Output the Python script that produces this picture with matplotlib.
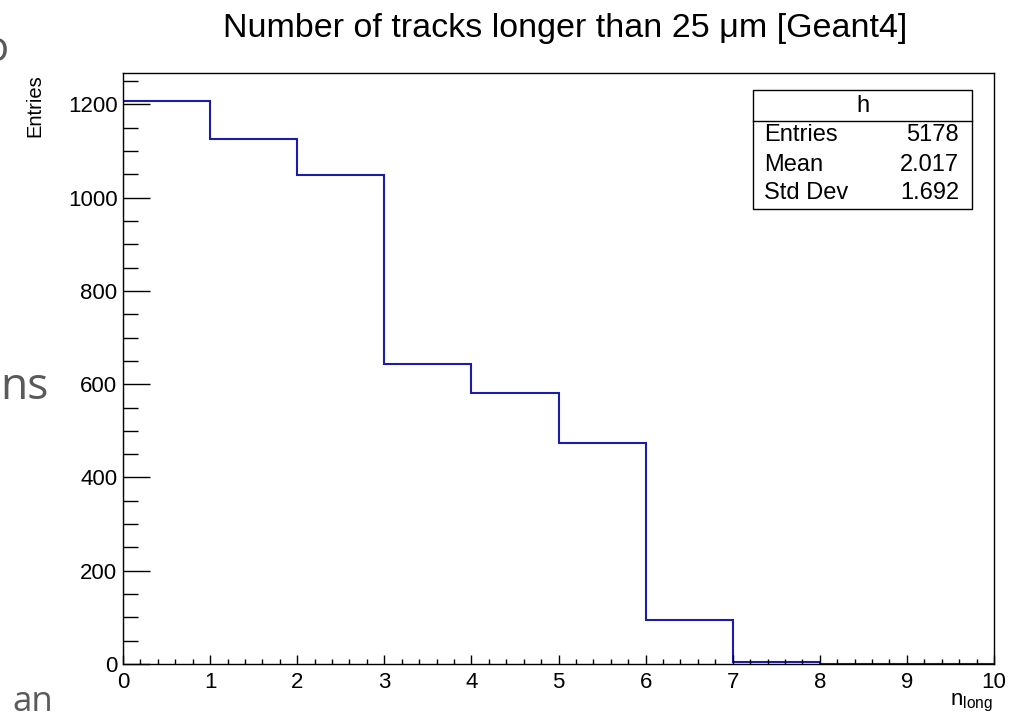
import matplotlib
matplotlib.use("Agg")
import matplotlib.pyplot as plt
from matplotlib.patches import Rectangle
from matplotlib.lines import Line2D
from matplotlib.ticker import MultipleLocator
import numpy as np

# ---- data ----
bin_edges = [0, 1, 2, 3, 4, 5, 6, 7, 8, 9, 10]
counts = [1207, 1125, 1049, 644, 581, 473, 95, 4, 0, 0]
title = "Number of tracks longer than 25 \u03bcm [Geant4]"
stat_names = ["Entries", "Mean", "Std Dev"]
stat_values = ["5178", "2.017", "1.692"]
hist_name = "h"

plt.rcParams['font.family'] = ['Liberation Sans', 'DejaVu Sans']
plt.rcParams['mathtext.fontset'] = 'custom'
plt.rcParams['mathtext.rm'] = 'Liberation Sans'

W, H = 1016, 717
fig = plt.figure(figsize=(W / 100, H / 100), dpi=100)

def fx(px):
    return px / W

def fy(py):
    return 1 - py / H

ax = fig.add_axes([fx(123), fy(664), fx(994) - fx(123), fy(73) - fy(664)])
ax.stairs(counts, bin_edges, color='#1c1caa', linewidth=1.5)
ax.set_xlim(0, 10)
ax.set_ylim(0, 1.05 * max(counts))

ax.xaxis.set_major_locator(MultipleLocator(1))
ax.xaxis.set_minor_locator(MultipleLocator(0.2))
ax.yaxis.set_major_locator(MultipleLocator(200))
ax.yaxis.set_minor_locator(MultipleLocator(50))
ax.tick_params(axis='both', which='both', direction='in', color='black',
               labelsize=16, top=False, right=False)
ax.tick_params(axis='y', which='major', length=19.5, width=1, pad=4)
ax.tick_params(axis='y', which='minor', length=11, width=1)
ax.tick_params(axis='x', which='major', length=6.5, width=1, pad=6)
ax.tick_params(axis='x', which='minor', length=3.8, width=1)
for s in ax.spines.values():
    s.set_linewidth(1.0)
    s.set_color('black')
    s.set_zorder(3)

# titles
fig.text(fx(565), fy(28), title, ha='center', va='center', fontsize=24.5)
fig.text(fx(35), fy(74), "Entries", rotation=90, ha='center', va='top', fontsize=14.5)
fig.text(fx(993), fy(705), r'$\mathregular{n_{long}}$', ha='right', va='baseline', fontsize=16)

# stats box
x0, x1 = fx(753), fx(972)
y0, y1 = fy(209), fy(90)
fig.add_artist(Rectangle((x0, y0), x1 - x0, y1 - y0, transform=fig.transFigure,
                         facecolor='white', edgecolor='black', linewidth=1.0))
fig.add_artist(Line2D([x0, x1], [fy(121), fy(121)], transform=fig.transFigure,
                      color='black', linewidth=1.0))
fig.text((x0 + x1) / 2, fy(106), hist_name, ha='center', va='center', fontsize=17)
row_y = [135, 165, 193]
for name, val, ry in zip(stat_names, stat_values, row_y):
    fig.text(fx(764), fy(ry), name, ha='left', va='center', fontsize=17)
    fig.text(fx(959), fy(ry), val, ha='right', va='center', fontsize=17)

# clipped text from the surrounding page
gray = '#5a5a5a'
fig.text(fx(-16), fy(50), "o", ha='left', va='center', fontsize=30,
         color=gray, family=['Open Sans', 'DejaVu Sans'])
fig.text(fx(0), fy(388), "ns", ha='left', va='center', fontsize=32,
         color=gray, family=['Open Sans', 'DejaVu Sans'])
fig.text(fx(12), fy(711), "an", ha='left', va='baseline', fontsize=25,
         color=gray, family=['Open Sans', 'DejaVu Sans'])

fig.savefig("out.png", dpi=100)
